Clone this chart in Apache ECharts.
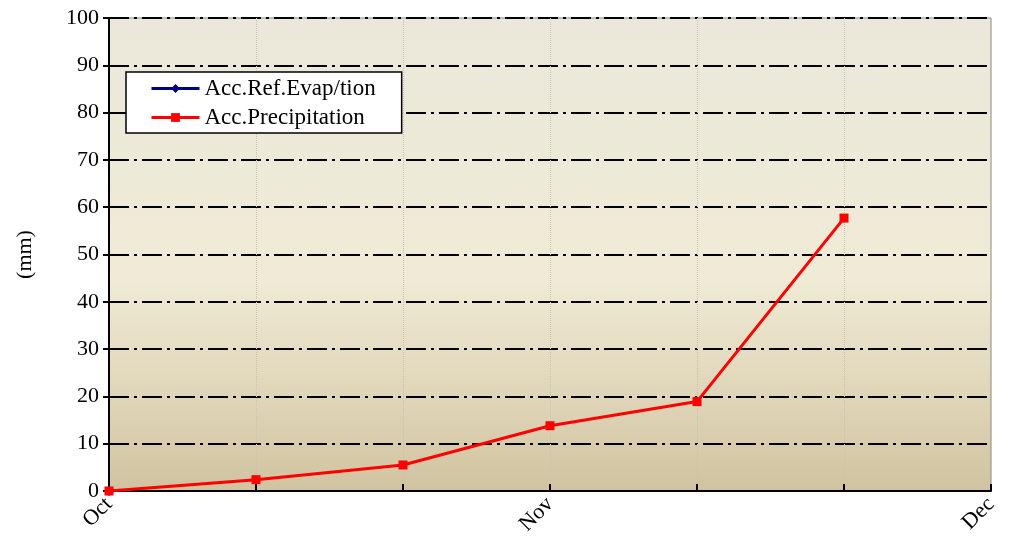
<!DOCTYPE html>
<html><head><meta charset="utf-8">
<script src="https://cdn.jsdelivr.net/npm/echarts@6/dist/echarts.min.js"></script>
<style>html,body{margin:0;padding:0;background:#fff}#c{width:1012px;height:544px}</style>
</head><body><div id="c"></div>
<script>
var categories = ['Oct', '', '', 'Nov', '', '', 'Dec'];
var evapValues = [0];
var precipValues = [0, 2.4, 5.5, 13.8, 18.9, 57.7];
var yTicks = [0, 100, 10];
var font = 'Liberation Serif';
var chart = echarts.init(document.getElementById('c'));
chart.setOption({
  animation: false,
  backgroundColor: '#fff',
  grid: {
    left: 109, right: 21, top: 18, bottom: 53, show: true,
    borderColor: '#888', borderWidth: 1,
    backgroundColor: new echarts.graphic.LinearGradient(0, 0, 0, 1, [
      {offset: 0, color: '#ebe8db'},
      {offset: 0.55, color: '#f0ebd6'},
      {offset: 1, color: '#d1c3a0'}
    ])
  },
  legend: {
    orient: 'vertical', left: 126, top: 72,
    backgroundColor: '#fff', borderColor: '#000', borderWidth: 1.5, borderRadius: 0,
    padding: [5, 26, 4, 24], itemGap: 6, itemWidth: 48, itemHeight: 11,
    lineStyle: {width: 3},
    textStyle: {fontFamily: font, fontSize: 23, color: '#000'},
    data: ['Acc.Ref.Evap/tion', 'Acc.Precipitation']
  },
  xAxis: {
    type: 'category', data: categories, boundaryGap: false,
    axisLine: {lineStyle: {color: '#000', width: 2}},
    axisTick: {inside: true, length: 7, lineStyle: {color: '#000', width: 2}, interval: 0},
    axisLabel: {rotate: 45, interval: 0, fontFamily: font, fontSize: 22, color: '#000', margin: 10},
    splitLine: {show: true, interval: 0, lineStyle: {color: '#c9c2b2', type: 'dotted', width: 1}}
  },
  yAxis: {
    type: 'value', min: yTicks[0], max: yTicks[1], interval: yTicks[2],
    name: '(mm)', nameLocation: 'middle', nameGap: 73, nameRotate: 90,
    nameTextStyle: {fontFamily: font, fontSize: 22, color: '#000'},
    axisLine: {show: true, lineStyle: {color: '#000', width: 2}},
    axisTick: {show: true, length: 6, lineStyle: {color: '#000', width: 2}},
    axisLabel: {fontFamily: font, fontSize: 22, color: '#000', margin: 10},
    splitLine: {show: true, lineStyle: {color: '#000', width: 2, type: [20, 5, 3, 5]}}
  },
  series: [
    {name: 'Acc.Ref.Evap/tion', type: 'line', data: evapValues, symbol: 'diamond', symbolSize: 10,
     itemStyle: {color: '#000080'}, lineStyle: {color: '#000080', width: 3}},
    {name: 'Acc.Precipitation', type: 'line', data: precipValues, symbol: 'rect', symbolSize: 9,
     itemStyle: {color: '#ff0000'}, lineStyle: {color: '#ff0000', width: 3}, z: 3}
  ]
});
</script></body></html>
